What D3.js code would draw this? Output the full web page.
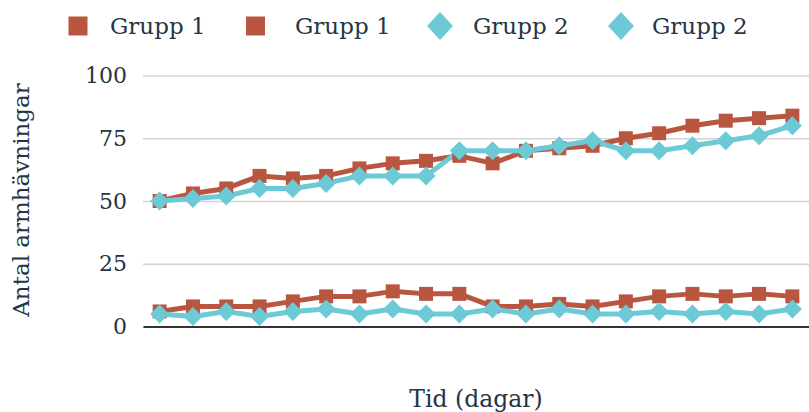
<!DOCTYPE html>
<html>
<head>
<meta charset="utf-8">
<script src="https://cdn.jsdelivr.net/npm/d3@7"></script>
<style>
  html, body { margin: 0; padding: 0; background: #fff; }
  svg { display: block; }
  text { font-family: "DejaVu Serif", serif; fill: #263443; }
</style>
</head>
<body>
<svg id="chart" width="809" height="412"></svg>
<script>
const days = d3.range(1, 21).map(String);
const grupp1High = [50, 53, 55, 60, 59, 60, 63, 65, 66, 68, 65, 70, 71, 72, 75, 77, 80, 82, 83, 84];
const grupp1Low  = [6, 8, 8, 8, 10, 12, 12, 14, 13, 13, 8, 8, 9, 8, 10, 12, 13, 12, 13, 12];
const grupp2High = [50, 51, 52, 55, 55, 57, 60, 60, 60, 70, 70, 70, 72, 74, 70, 70, 72, 74, 76, 80];
const grupp2Low  = [5, 4, 6, 4, 6, 7, 5, 7, 5, 5, 7, 5, 7, 5, 5, 6, 5, 6, 5, 7];
const seriesNames = ["Grupp 1", "Grupp 1", "Grupp 2", "Grupp 2"];
const yTicks = [0, 25, 50, 75, 100];
const xTitle = "Tid (dagar)";
const yTitle = "Antal armhävningar";

const RED = "#B95640", CYAN = "#6CC9D6";
const series = [
  { name: seriesNames[0], values: grupp1High, color: RED, shape: "square" },
  { name: seriesNames[1], values: grupp1Low, color: RED, shape: "square" },
  { name: seriesNames[2], values: grupp2High, color: CYAN, shape: "diamond" },
  { name: seriesNames[3], values: grupp2Low, color: CYAN, shape: "diamond" }
];

const svg = d3.select("#chart");
const mLeft = 143, mRight = 809, mTop = 75.5, mBottom = 326.5;

const x = d3.scaleBand().domain(days).range([mLeft, mRight]).padding(0);
const y = d3.scaleLinear().domain([0, 100]).range([mBottom, mTop]);

// gridlines + y labels
const yAxis = d3.axisLeft(y).tickValues(yTicks).tickSize(-(mRight - mLeft)).tickPadding(16).tickFormat(d3.format("d"));
const gy = svg.append("g").attr("transform", `translate(${mLeft},0)`).call(yAxis);
gy.select(".domain").remove();
gy.selectAll(".tick line").attr("stroke", "#d3d3d3").attr("stroke-width", 1.5);
gy.selectAll(".tick text").attr("font-size", 22).attr("font-family", "DejaVu Serif").attr("fill", "#263443");

// x axis line
const xAxis = d3.axisBottom(x).tickSize(0).tickFormat("");
const gx = svg.append("g").attr("transform", `translate(0,${mBottom})`).call(xAxis);
gx.select(".domain").attr("stroke", "#333").attr("stroke-width", 2);

const line = d3.line().x((d, i) => x(days[i]) + x.bandwidth() / 2).y(d => y(d));
const sqSym = d3.symbol().type(d3.symbolSquare).size(14 * 14);
const diaPath = s => `M0,${-s}L${s},0L0,${s}L${-s},0Z`;

series.forEach(s => {
  svg.append("path").datum(s.values).attr("d", line)
    .attr("fill", "none").attr("stroke", s.color).attr("stroke-width", 5).attr("stroke-linejoin", "round");
});
series.forEach(s => {
  svg.append("g").selectAll("path").data(s.values).join("path")
    .attr("transform", (d, i) => `translate(${x(days[i]) + x.bandwidth() / 2},${y(d)})`)
    .attr("d", s.shape === "square" ? sqSym() : diaPath(9.5))
    .attr("fill", s.color);
});

// legend
const legendMarkerX = [78, 255.5, 440, 621];
const legendTextX = [110, 295, 473, 652];
const legendY = 26;
series.forEach((s, i) => {
  const g = svg.append("g");
  if (s.shape === "square") {
    g.append("rect").attr("x", legendMarkerX[i] - 9.5).attr("y", legendY - 9.5).attr("width", 19).attr("height", 19).attr("fill", s.color);
  } else {
    g.append("path").attr("d", `M0,-14L13,0L0,14L-13,0Z`).attr("transform", `translate(${legendMarkerX[i]},${legendY})`).attr("fill", s.color);
  }
  g.append("text").attr("x", legendTextX[i]).attr("y", legendY).attr("dy", "0.35em").attr("font-size", 23).text(s.name);
});

// titles
svg.append("text").attr("x", (mLeft + mRight) / 2).attr("y", 407).attr("text-anchor", "middle").attr("font-size", 23.5).text(xTitle);
svg.append("text").attr("transform", `translate(29,200) rotate(-90)`).attr("text-anchor", "middle").attr("font-size", 23).text(yTitle);
</script>
</body>
</html>
